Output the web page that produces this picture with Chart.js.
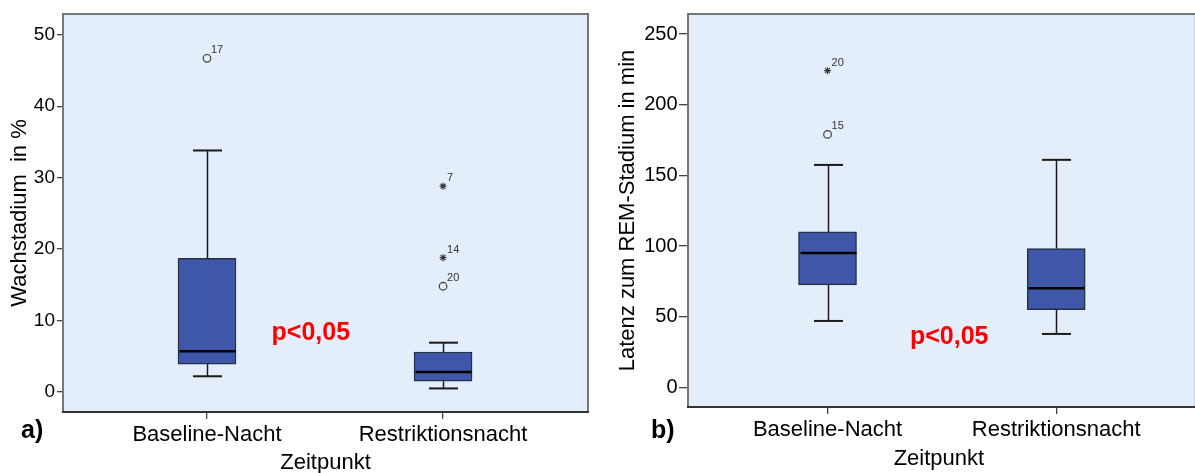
<!DOCTYPE html>
<html>
<head>
<meta charset="utf-8">
<script src="https://cdn.jsdelivr.net/npm/chart.js@4.4.0/dist/chart.umd.min.js"></script>
<style>
    html, body { margin: 0; padding: 0; background: #fff; }
    #wrap { position: relative; width: 1195px; height: 473px; overflow: hidden; }
    .panel { position: absolute; top: 0; height: 473px; }
    #panelA { left: 0; width: 597px; }
    #panelB { left: 600px; width: 595px; }
</style>
</head>
<body>
<div id="wrap">
    <div class="panel" id="panelA"><canvas id="chartA"></canvas></div>
    <div class="panel" id="panelB"><canvas id="chartB"></canvas></div>
</div>
<script>
// Kategorien (x-Achse)
var categories = ['Baseline-Nacht', 'Restriktionsnacht'];

// a) Wachstadium in %
var wachMin    = [2.2, 0.5];
var wachQ1     = [3.9, 1.5];
var wachMedian = [5.7, 2.8];
var wachQ3     = [18.7, 5.6];
var wachMax    = [33.8, 6.9];
var wachOutCat     = [0, 1, 1, 1];
var wachOutValue   = [46.7, 28.8, 18.8, 14.8];
var wachOutId      = ['17', '7', '14', '20'];
var wachOutExtreme = [false, true, true, false];
var wachTicks = [0, 10, 20, 30, 40, 50];

// b) Latenz zum REM-Stadium in min
var latMin    = [47, 37.8];
var latQ1     = [72.5, 55];
var latMedian = [95.1, 70.1];
var latQ3     = [110, 98.2];
var latMax    = [157.4, 161];
var latOutCat     = [0, 0];
var latOutValue   = [224.1, 179];
var latOutId      = ['20', '15'];
var latOutExtreme = [true, false];
var latTicks = [0, 50, 100, 150, 200, 250];

var FONT = "'Liberation Sans', Arial, sans-serif";
Chart.defaults.font.family = FONT;

// Whisker, Median, Ausreisser-Nummern, Rahmen
var boxExtras = {
    id: 'boxExtras',
    beforeDraw: function(chart, args, opts) {
        var a = chart.chartArea, ctx = chart.ctx;
        var right = opts.rightBorder ? a.right : a.right + 6;
        ctx.save();
        ctx.fillStyle = '#e3eefa';
        ctx.fillRect(a.left, a.top, right - a.left, a.bottom - a.top);
        ctx.restore();
    },
    afterDatasetsDraw: function(chart, args, opts) {
        var xs = chart.scales.x, ys = chart.scales.y, ctx = chart.ctx;
        var s = opts.stats;
        var bars = chart.getDatasetMeta(0).data;
        function line(x1, y1, x2, y2) {
            ctx.beginPath(); ctx.moveTo(x1, y1); ctx.lineTo(x2, y2); ctx.stroke();
        }
        ctx.save();
        for (var i = 0; i < s.min.length; i++) {
            var px = Math.round(xs.getPixelForValue(i)) + 0.5;
            var half = bars[i].width / 2;
            var cap = half / 2;
            var yMin = ys.getPixelForValue(s.min[i]);
            var yMax = ys.getPixelForValue(s.max[i]);
            ctx.strokeStyle = '#1a1a1a';
            ctx.lineWidth = 1.5;
            line(px, ys.getPixelForValue(s.q3[i]), px, yMax);
            line(px, ys.getPixelForValue(s.q1[i]), px, yMin);
            ctx.lineWidth = 2;
            line(px - cap, yMax, px + cap, yMax);
            line(px - cap, yMin, px + cap, yMin);
            ctx.strokeStyle = '#000';
            ctx.lineWidth = 2.6;
            var ym = ys.getPixelForValue(s.median[i]);
            line(px - half + 1, ym, px + half - 1, ym);
        }
        // Fallnummern der Ausreisser
        ctx.fillStyle = '#333';
        ctx.font = '11px ' + FONT;
        ctx.textAlign = 'left';
        ctx.textBaseline = 'alphabetic';
        for (var j = 0; j < s.outCat.length; j++) {
            var ox = xs.getPixelForValue(s.outCat[j]);
            var oy = ys.getPixelForValue(s.outValue[j]);
            ctx.fillText(s.outId[j], ox + 4, oy - 5);
        }
        // p-Wert
        ctx.fillStyle = '#ff0000';
        ctx.font = 'bold 25px ' + FONT;
        ctx.textAlign = 'center';
        ctx.textBaseline = 'middle';
        ctx.fillText(opts.pText, xs.getPixelForValue(opts.pX), ys.getPixelForValue(opts.pY));
        ctx.restore();
    },
    afterDraw: function(chart, args, opts) {
        var a = chart.chartArea, ctx = chart.ctx;
        var right = opts.rightBorder ? a.right : a.right + 6;
        ctx.save();
        ctx.strokeStyle = '#767676';
        ctx.lineWidth = 2;
        ctx.strokeRect(a.left, a.top, right - a.left, a.bottom - a.top);
        ctx.strokeStyle = '#333';
        ctx.beginPath(); ctx.moveTo(a.left - 1, a.bottom); ctx.lineTo(right + 1, a.bottom); ctx.stroke();
        // Panelbuchstabe
        ctx.fillStyle = '#000';
        ctx.font = 'bold 25px ' + FONT;
        ctx.textAlign = 'left';
        ctx.textBaseline = 'middle';
        ctx.fillText(opts.letter, opts.letterX, opts.letterY);
        ctx.restore();
    }
};

function makeBoxChart(id, cfg) {
    var ctx = document.getElementById(id).getContext('2d');
    var boxes = categories.map(function(c, i) {
        return { x: i, y: [cfg.q1[i], cfg.q3[i]] };
    });
    var outliers = cfg.outCat.map(function(c, i) {
        return { x: c, y: cfg.outValue[i] };
    });
    return new Chart(ctx, {
        type: 'bar',
        data: {
            datasets: [{
                type: 'bar',
                data: boxes,
                backgroundColor: '#3e57a8',
                borderColor: '#27304a',
                borderWidth: 1.5,
                borderSkipped: false,
                barThickness: 58
            }, {
                type: 'scatter',
                data: outliers,
                pointStyle: function(c) { return cfg.outExtreme[c.dataIndex] ? 'star' : 'circle'; },
                pointRadius: function(c) { return cfg.outExtreme[c.dataIndex] ? 3.5 : 3.8; },
                pointBorderWidth: 1.2,
                pointBorderColor: '#3a3a3a',
                pointBackgroundColor: 'rgba(0,0,0,0)'
            }]
        },
        options: {
            responsive: true,
            maintainAspectRatio: false,
            animation: false,
            layout: { padding: { left: 0, top: 14, right: cfg.padRight, bottom: 0 } },
            plugins: {
                legend: { display: false },
                tooltip: { enabled: false },
                boxExtras: {
                    stats: cfg,
                    pText: 'p<0,05', pX: cfg.pX, pY: cfg.pY,
                    letter: cfg.letter, letterX: cfg.letterX, letterY: 431,
                    rightBorder: cfg.rightBorder
                }
            },
            scales: {
                x: {
                    type: 'linear',
                    offset: false,
                    min: cfg.xMin,
                    max: cfg.xMax,
                    afterBuildTicks: function(scale) {
                        scale.ticks = categories.map(function(c, i) { return { value: i }; });
                    },
                    afterFit: function(scale) { scale.height = cfg.xHeight; },
                    ticks: {
                        callback: function(v) { return categories[v]; },
                        font: { size: 22 },
                        color: '#000',
                        padding: 3,
                        maxRotation: 0,
                        autoSkip: false
                    },
                    grid: { offset: false, drawOnChartArea: false, tickLength: 7, color: '#444', lineWidth: 1.3 },
                    border: { display: false },
                    title: {
                        display: true,
                        text: 'Zeitpunkt',
                        color: '#000',
                        font: { size: 22, lineHeight: 0.9 },
                        padding: { top: 0, bottom: cfg.xTitlePad }
                    }
                },
                y: {
                    min: cfg.yMin,
                    max: cfg.yMax,
                    afterBuildTicks: function(scale) {
                        scale.ticks = cfg.ticks.map(function(v) { return { value: v }; });
                    },
                    afterFit: function(scale) { scale.width = cfg.yWidth; },
                    ticks: { font: { size: cfg.tickSize }, color: '#000', padding: cfg.tickPad },
                    grid: { drawOnChartArea: false, tickLength: cfg.tickLen, color: '#444', lineWidth: 1.3 },
                    border: { display: false },
                    title: {
                        display: true,
                        text: cfg.yTitle,
                        color: '#000',
                        font: { size: 22 },
                        padding: { top: cfg.yTitlePad, bottom: 0 }
                    }
                }
            }
        },
        plugins: [boxExtras]
    });
}

makeBoxChart('chartA', {
    min: wachMin, q1: wachQ1, median: wachMedian, q3: wachQ3, max: wachMax,
    outCat: wachOutCat, outValue: wachOutValue, outId: wachOutId, outExtreme: wachOutExtreme,
    ticks: wachTicks, yMin: -2.8, yMax: 52.9, xMin: -0.61, xMax: 1.614,
    yTitle: 'Wachstadium  in %', yTitlePad: 6.8, yWidth: 63, tickSize: 19, tickPad: 2, tickLen: 6,
    xHeight: 61, xTitlePad: 0.5, padRight: 9, rightBorder: true,
    pX: 0.44, pY: 8.2, letter: 'a)', letterX: 21
});

makeBoxChart('chartB', {
    min: latMin, q1: latQ1, median: latMedian, q3: latQ3, max: latMax,
    outCat: latOutCat, outValue: latOutValue, outId: latOutId, outExtreme: latOutExtreme,
    ticks: latTicks, yMin: -13.9, yMax: 264.2, xMin: -0.61, xMax: 1.584,
    yTitle: 'Latenz zum REM-Stadium in min', yTitlePad: 14.8, yWidth: 88, tickSize: 20, tickPad: 1.5, tickLen: 9,
    xHeight: 66, xTitlePad: 4, padRight: 0, rightBorder: false,
    pX: 0.532, pY: 35.9, letter: 'b)', letterX: 51
});
</script>
</body>
</html>
